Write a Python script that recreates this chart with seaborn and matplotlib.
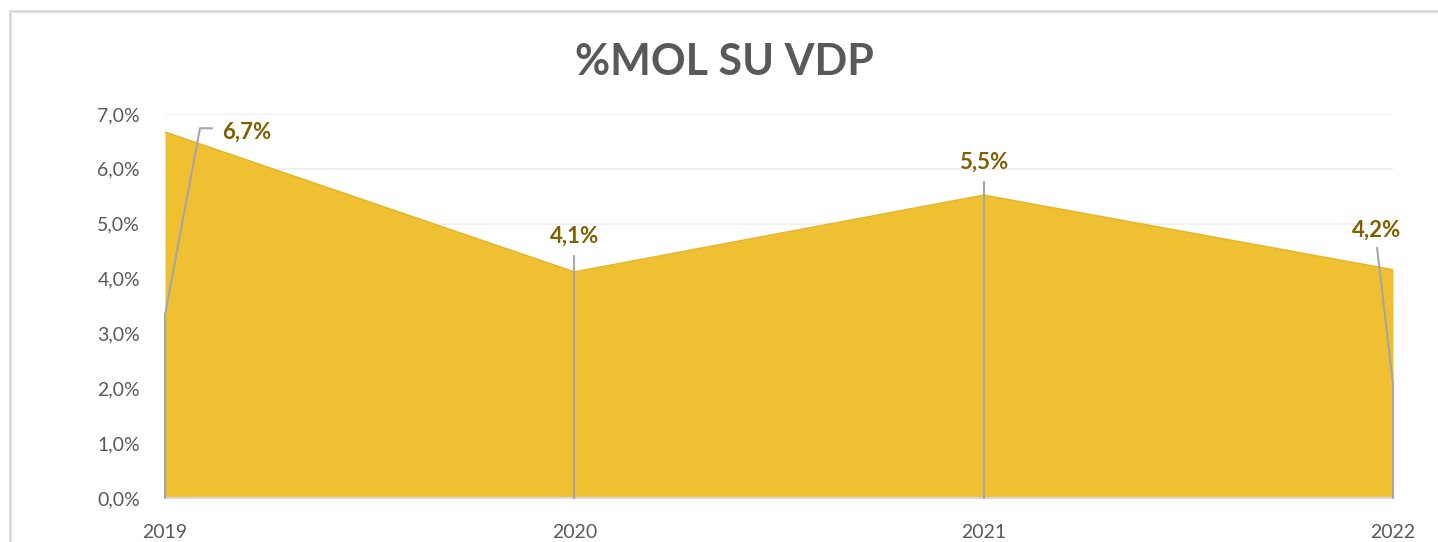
import numpy as np
import pandas as pd
import matplotlib.pyplot as plt
import seaborn as sns
from matplotlib.patches import Rectangle

# data
years = ['2019', '2020', '2021', '2022']
mol_pct = [6.67, 4.12, 5.52, 4.16]

# label placement (data units)
label_dx = [0.139, 0.0, 0.0, -0.039]
label_y = [6.67, 4.78, 6.12, 4.885]
line_top_y = [6.74, 4.41, 5.76, 4.56]

sns.set_style('white')
plt.rcParams['font.family'] = ['Lato', 'DejaVu Sans']

GOLD = '#F0C033'
LABEL_C = '#7F6000'
TEXT_C = '#595959'
LEADER = '#A6A6A6'

df = pd.DataFrame({'x': np.arange(len(years)), 'y': mol_pct})

fig = plt.figure(figsize=(14.38, 5.42), dpi=100)
ax = fig.add_axes([165 / 1438, 1 - 498 / 542, (1393 - 165) / 1438, (498 - 114) / 542])

ax.fill_between(df['x'], 0, df['y'], color=GOLD, zorder=2, linewidth=0)
sns.lineplot(data=df, x='x', y='y', ax=ax, color='#E6B52A', linewidth=1.2, zorder=3)

ax.set_xlim(0, len(years) - 1)
ax.set_ylim(0, 7)
ax.set_yticks(np.arange(0, 8, 1))
ax.set_yticklabels([f'{v:.1f}%'.replace('.', ',') for v in np.arange(0, 8, 1)])
ax.set_xticks(df['x'])
ax.set_xticklabels(years)
ax.tick_params(axis='y', length=0, pad=18, labelsize=14, labelcolor=TEXT_C)
ax.tick_params(axis='x', length=0, pad=19, labelsize=14, labelcolor=TEXT_C)
ax.set_xlabel('')
ax.set_ylabel('')
ax.grid(axis='y', color='#EFEFEF', linewidth=1.3, zorder=0)
ax.set_axisbelow(True)
for s in ['top', 'right', 'left']:
    ax.spines[s].set_visible(False)
ax.spines['bottom'].set_color('#D9D9D9')
ax.spines['bottom'].set_linewidth(1.5)

# leader lines and data labels
for i, v in enumerate(mol_pct):
    lab = f'{v:.1f}%'.replace('.', ',')
    lx = i + label_dx[i]
    mid = v / 2
    if i == 0:
        xs = [i, i, 0.0855, 0.115]
        ys = [0, mid, line_top_y[i], line_top_y[i]]
        ha = 'left'
    else:
        xs = [i, i, lx]
        ys = [0, mid, line_top_y[i]]
        ha = 'center'
    ax.plot(xs, ys, color=LEADER, lw=1.5, zorder=4, clip_on=False)
    ax.text(lx, label_y[i], lab, ha=ha, va='center', fontsize=16,
            fontweight='bold', color=LABEL_C)

fig.text(0.5 + 5 / 1438, 1 - 62 / 542, '%MOL SU VDP', ha='center', va='center',
         fontsize=31, fontweight='bold', color=TEXT_C)

# chart frame
fig.patches.append(Rectangle((10 / 1438, -0.1), 1.2, 1 - 11 / 542 + 0.1,
                             transform=fig.transFigure, fill=False,
                             edgecolor='#D9D9D9', linewidth=2))

fig.savefig('out.png', dpi=100)
